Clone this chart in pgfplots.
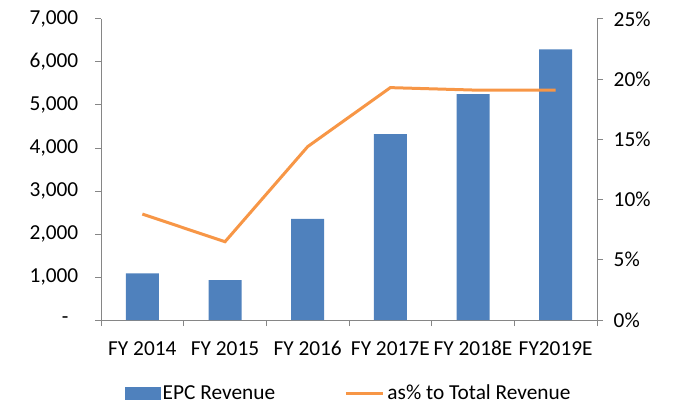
\documentclass[border=0pt]{standalone}
\usepackage{fontspec}
\setmainfont{Carlito}
\usepackage{pgfplots}
\pgfplotsset{compat=1.18}
\definecolor{barblue}{HTML}{4F81BD}
\definecolor{lineorange}{HTML}{F79646}
\definecolor{axgray}{HTML}{868686}
\begin{document}
\begin{tikzpicture}
\useasboundingbox (-75.75pt,-62.25pt) rectangle (429pt,240pt);
\pgfplotsset{
 common/.style={
   scale only axis, width=372pt, height=225.75pt, at={(0,0)}, anchor=south west,
   xmin=-0.5, xmax=5.5,
   axis line style={axgray, line width=0.75pt, -},
   tick style={axgray, line width=0.75pt},
   tick align=outside, major tick length=4.5pt, minor tick length=4.5pt,
   tick label style={font=\fontsize{16}{19}\selectfont, text=black},
 }
}
\begin{axis}[common,
  ymin=0, ymax=7000,
  axis x line*=bottom, axis y line*=left,
  xtick={0,...,5},
  xticklabels={FY 2014, FY 2015, FY 2016, FY 2017E, FY 2018E, FY2019E},
  minor xtick={-0.5,0.5,...,5.5},
  major x tick style={draw=none},
  ytick={0,1000,...,7000},
  yticklabels={{-\rule{7.5pt}{0pt}},{1,000},{2,000},{3,000},{4,000},{5,000},{6,000},{7,000}},
  xticklabel style={yshift=-8pt},
  yticklabel style={xshift=-9pt},
]
\addplot[ybar, bar width=24.75pt, fill=barblue, draw=none]
  coordinates {(0,1085)(1,930)(2,2350)(3,4320)(4,5250)(5,6295)};
\end{axis}
\begin{axis}[common,
  ymin=0, ymax=25,
  axis x line=none, axis y line*=right,
  ytick={0,5,...,25},
  yticklabels={0\%,5\%,10\%,15\%,20\%,25\%},
  yticklabel style={xshift=4.5pt},
  legend style={at={(0.5,-0.243)}, anchor=center, draw=none, fill=none,
    legend columns=2, font=\fontsize{16}{19}\selectfont,
    /tikz/every even column/.append style={column sep=50pt}},
  legend cell align=left,
]
\addlegendimage{legend image code/.code={\fill[barblue] (0pt,-4.5pt) rectangle (26pt,4.5pt);}}
\addlegendentry{EPC Revenue}
\addplot[lineorange, line width=2.25pt, mark=none,
  legend image code/.code={\draw[lineorange,line width=2.25pt] (0pt,0pt) -- (28pt,0pt);}]
  coordinates {(0,8.8)(1,6.5)(2,14.4)(3,19.3)(4,19.1)(5,19.1)};
\addlegendentry{as\% to Total Revenue}
\end{axis}
\end{tikzpicture}
\end{document}
